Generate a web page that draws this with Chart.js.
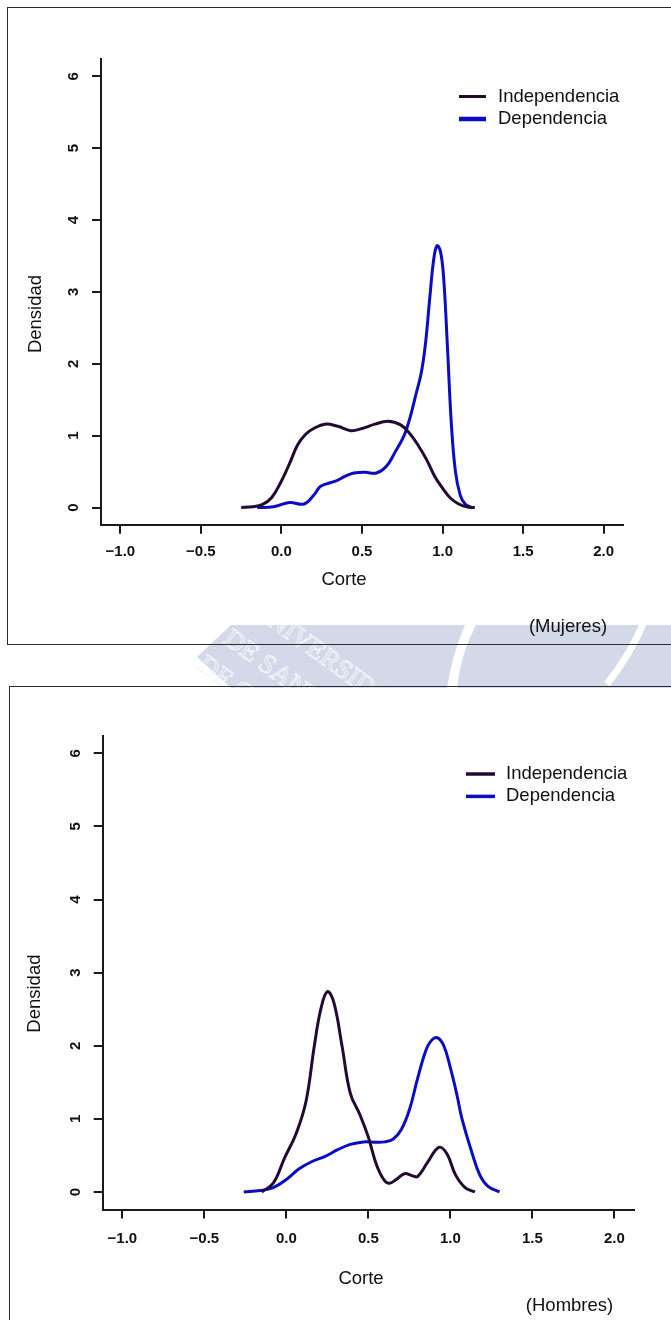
<!DOCTYPE html>
<html>
<head>
<meta charset="utf-8">
<script src="https://cdn.jsdelivr.net/npm/chart.js@4.4.0/dist/chart.umd.min.js"></script>
<style>
  html, body { margin:0; padding:0; background:#fff; }
  body { width:671px; height:1320px; position:relative; overflow:hidden; }
  .wm { position:absolute; left:0; top:0; }
  .box { position:absolute; border:1.5px solid #2b2b2b; box-sizing:border-box; }
  canvas { position:absolute; left:0; }
</style>
</head>
<body>

<!-- background watermark strip between the two figures -->
<svg class="wm" width="671" height="1320">
  <defs>
    <clipPath id="band"><rect x="0" y="625" width="671" height="63"/></clipPath>
  </defs>
  <g fill="#d3d9e8">
    <path d="M197,657 L231,625 L465,625 Q452,655 447,688 L231,688 Z"/>
    <path d="M476,625 L671,625 L671,688 L457,688 Q461,652 476,625 Z"/>
  </g>
  <path d="M644,622 Q630,655 607,684" stroke="#fff" stroke-width="7" fill="none"/>
  <g clip-path="url(#band)" fill="none" stroke="#f4f6fa" stroke-width="0.9"
     font-family="Liberation Serif, serif" font-size="27">
    <text transform="translate(250,612) rotate(36)">UNIVERSIDAD</text>
    <text transform="translate(222,642) rotate(36)">DE SANTIAGO</text>
    <text transform="translate(196,668) rotate(36)">DE CHILE</text>
  </g>
</svg>

<div class="box" style="left:7px;top:7px;width:720px;height:638px"></div>
<div class="box" style="left:9px;top:686px;width:720px;height:700px"></div>

<canvas id="mujeres" width="671" height="645" style="top:0"></canvas>
<canvas id="hombres" width="671" height="633" style="top:687px"></canvas>

<script>
// ================= DATA =================
const xTicks = [-1.0, -0.5, 0.0, 0.5, 1.0, 1.5, 2.0];
const yTicks = [0, 1, 2, 3, 4, 5, 6];
const seriesLabels = ["Independencia", "Dependencia"];

// Mujeres - Independencia
const mujeresIndX = [-0.25, -0.18, -0.12, -0.06, 0.0, 0.05, 0.1, 0.15, 0.2, 0.27, 0.35, 0.43, 0.5, 0.58, 0.66, 0.74, 0.8, 0.85, 0.9, 0.95, 1.0, 1.05, 1.1, 1.15, 1.2];
const mujeresIndY = [0, 0.01, 0.04, 0.14, 0.37, 0.61, 0.87, 1.02, 1.1, 1.16, 1.13, 1.07, 1.1, 1.16, 1.2, 1.15, 1.02, 0.86, 0.67, 0.44, 0.27, 0.13, 0.05, 0.01, 0];
// Mujeres - Dependencia
const mujeresDepX = [-0.15, -0.05, 0.05, 0.14, 0.2, 0.24, 0.28, 0.34, 0.4, 0.45, 0.52, 0.59, 0.65, 0.7, 0.77, 0.84, 0.87, 0.895, 0.92, 0.945, 0.965, 0.985, 1.005, 1.03, 1.055, 1.08, 1.11, 1.14, 1.18];
const mujeresDepY = [0, 0.01, 0.07, 0.05, 0.17, 0.29, 0.33, 0.37, 0.44, 0.48, 0.49, 0.48, 0.57, 0.75, 1.05, 1.62, 1.9, 2.3, 2.9, 3.45, 3.64, 3.58, 3.25, 2.25, 1.15, 0.5, 0.17, 0.05, 0];

// Hombres - Independencia
const hombresIndX = [-0.15, -0.08, -0.01, 0.06, 0.12, 0.17, 0.21, 0.25, 0.29, 0.34, 0.39, 0.45, 0.5, 0.55, 0.6, 0.63, 0.67, 0.72, 0.77, 0.8, 0.86, 0.93, 0.98, 1.03, 1.09, 1.15];
const hombresIndY = [0, 0.12, 0.47, 0.8, 1.24, 1.99, 2.5, 2.74, 2.59, 1.99, 1.35, 1.05, 0.75, 0.37, 0.15, 0.12, 0.17, 0.25, 0.22, 0.21, 0.4, 0.61, 0.52, 0.24, 0.06, 0];
// Hombres - Dependencia
const hombresDepX = [-0.26, -0.16, -0.08, 0, 0.08, 0.16, 0.24, 0.31, 0.39, 0.47, 0.55, 0.6, 0.65, 0.7, 0.75, 0.8, 0.85, 0.88, 0.92, 0.96, 1.0, 1.04, 1.07, 1.13, 1.18, 1.23, 1.3];
const hombresDepY = [0, 0.02, 0.06, 0.17, 0.32, 0.42, 0.49, 0.575, 0.65, 0.685, 0.68, 0.685, 0.72, 0.85, 1.12, 1.55, 1.93, 2.06, 2.11, 2.0, 1.7, 1.33, 1.01, 0.55, 0.23, 0.075, 0];

// ================= STYLE =================
const FAMILY = "'Liberation Sans', Arial, sans-serif";
const IND_COLOR = "#230a30";
const DEP_COLOR = "#0c0cc4";
const AXIS_COLOR = "#1a1a1a";

const pts = (xs, ys) => xs.map((x, i) => ({ x: x, y: ys[i] }));
const fmt = v => (v < 0 ? "\u2212" : "") + Math.abs(v).toFixed(1);

// ================= PLUGINS =================
// legend drawn like R's legend(): short line + label
const rLegend = {
  id: "rLegend",
  afterDraw(chart, args, o) {
    const ctx = chart.ctx;
    ctx.save();
    ctx.font = "18.5px " + FAMILY;
    ctx.textBaseline = "middle";
    chart.data.datasets.forEach((ds, i) => {
      const y = o.y + i * o.dy;
      ctx.strokeStyle = ds.borderColor;
      ctx.lineWidth = o.lineWidths[i];
      ctx.beginPath(); ctx.moveTo(o.x1, y); ctx.lineTo(o.x2, y); ctx.stroke();
      ctx.fillStyle = "#111";
      ctx.fillText(ds.label, o.tx, y);
    });
    ctx.restore();
  }
};

// rotated y tick labels (R las=0)
const yLabels = {
  id: "yLabels",
  afterDraw(chart, args, o) {
    const sc = chart.scales.y, ctx = chart.ctx;
    ctx.save();
    ctx.font = "bold 15px " + FAMILY;
    ctx.fillStyle = "#111";
    ctx.textAlign = "center";
    ctx.textBaseline = "middle";
    sc.ticks.forEach(t => {
      ctx.save();
      ctx.translate(chart.chartArea.left - o.offset, sc.getPixelForValue(t.value));
      ctx.rotate(-Math.PI / 2);
      ctx.fillText(String(t.value), 0, 0);
      ctx.restore();
    });
    ctx.restore();
  }
};

// axis titles + panel caption
const texts = {
  id: "texts",
  afterDraw(chart, args, o) {
    const ctx = chart.ctx;
    ctx.save();
    ctx.font = "18.5px " + FAMILY;
    ctx.fillStyle = "#111";
    ctx.textAlign = "center";
    ctx.textBaseline = "middle";
    o.items.forEach(it => {
      ctx.save();
      ctx.translate(it.x, it.y);
      if (it.rot) ctx.rotate(-Math.PI / 2);
      ctx.fillText(it.text, 0, 0);
      ctx.restore();
    });
    ctx.restore();
  }
};

// ================= CHARTS =================
function makeChart(id, d) {
  const grid = {
    display: true, drawOnChartArea: false, drawTicks: true,
    tickLength: 9, tickWidth: 2, tickColor: AXIS_COLOR, color: AXIS_COLOR, lineWidth: 2
  };
  const border = { display: true, color: AXIS_COLOR, width: 2 };

  return new Chart(document.getElementById(id), {
    type: "line",
    data: {
      datasets: [
        { label: seriesLabels[0], data: pts(d.indX, d.indY), borderColor: IND_COLOR, borderWidth: 3,
          pointRadius: 0, fill: false, tension: 0.4 },
        { label: seriesLabels[1], data: pts(d.depX, d.depY), borderColor: DEP_COLOR, borderWidth: 3,
          pointRadius: 0, fill: false, tension: 0.4 }
      ]
    },
    options: {
      responsive: false,
      animation: false,
      layout: { padding: d.pad },
      plugins: {
        legend: { display: false },
        tooltip: { enabled: false },
        rLegend: d.legend,
        yLabels: { offset: d.yLabelOffset },
        texts: { items: d.texts }
      },
      scales: {
        x: {
          type: "linear", min: -1.12, max: 2.12,
          afterBuildTicks: s => { s.ticks = xTicks.map(v => ({ value: v })); },
          afterFit: s => { s.height = 40; },
          grid: grid, border: border,
          ticks: { callback: fmt, color: "#111", padding: d.xTickPad, maxRotation: 0,
                   font: { family: FAMILY, size: 15, weight: "bold" } }
        },
        y: {
          type: "linear", min: -0.24, max: 6.24,
          afterBuildTicks: s => { s.ticks = yTicks.map(v => ({ value: v })); },
          afterFit: s => { s.width = 40; },
          grid: grid, border: border,
          ticks: { display: false }
        }
      }
    },
    plugins: [rLegend, yLabels, texts]
  });
}

makeChart("mujeres", {
  indX: mujeresIndX, indY: mujeresIndY, depX: mujeresDepX, depY: mujeresDepY,
  pad: { left: 61, right: 48, top: 59, bottom: 80.2 },
  xTickPad: 9.5,
  yLabelOffset: 27,
  legend: { x1: 459, x2: 486, tx: 498, y: 96.5, dy: 22.5, lineWidths: [3, 4.5] },
  texts: [
    { text: "Corte", x: 344, y: 579.5 },
    { text: "Densidad", x: 36, y: 314, rot: true },
    { text: "(Mujeres)", x: 568, y: 627 }
  ]
});

makeChart("hombres", {
  indX: hombresIndX, indY: hombresIndY, depX: hombresDepX, depY: hombresDepY,
  pad: { left: 62.7, right: 37, top: 48.8, bottom: 70.5 },
  xTickPad: 11,
  yLabelOffset: 26.7,
  legend: { x1: 466, x2: 495, tx: 506, y: 87, dy: 22.4, lineWidths: [3.5, 3.5] },
  texts: [
    { text: "Corte", x: 361, y: 592 },
    { text: "Densidad", x: 35, y: 306.6, rot: true },
    { text: "(Hombres)", x: 569.5, y: 619 }
  ]
});
</script>
</body>
</html>
